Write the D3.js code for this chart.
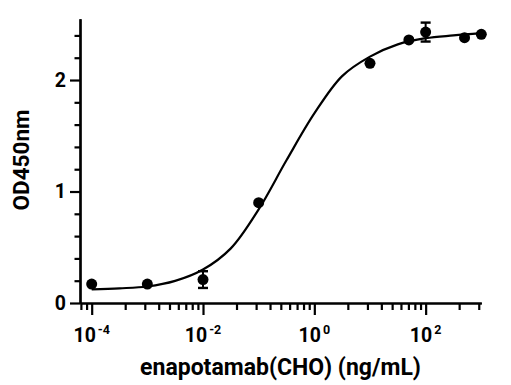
<!DOCTYPE html>
<html>
<head>
<meta charset="utf-8">
<script src="https://cdn.jsdelivr.net/npm/d3@7"></script>
<style>
  html, body { margin: 0; padding: 0; background: #fff; }
  svg { display: block; }
  text { font-family: Roboto, "Liberation Sans", Arial, sans-serif; font-weight: bold; fill: #000; }
</style>
</head>
<body>
<script>
// ---- data ----
const conc = [1e-4, 1e-3, 1e-2, 0.1, 10, 50, 100, 500, 1000];           // ng/mL
const od   = [0.17, 0.17, 0.21, 0.90, 2.15, 2.36, 2.43, 2.38, 2.41];    // OD450 mean
const err  = [0,    0,    0.075, 0,   0,    0,    0.085, 0,   0];        // error (SD)

// fitted curve at half-decade steps
const curveConc = [1e-4, 3.16e-4, 1e-3, 3.16e-3, 1e-2, 3.16e-2, 0.1, 0.316, 1, 3.16, 10, 31.6, 100, 316, 1000];
const curveOD   = [0.123, 0.132, 0.148, 0.198, 0.300, 0.490, 0.840, 1.280, 1.700, 2.035, 2.210, 2.320, 2.375, 2.400, 2.420];

const xMajorTicks = [1e-4, 1e-2, 1, 100];
const xMajorLabels = [["10", "-4"], ["10", "-2"], ["10", "0"], ["10", "2"]];
const xMinorTicks = [6.4e-5, 8.1e-5,
  4e-4, 9e-4, 1.6e-3, 2.5e-3, 3.6e-3, 4.9e-3, 6.4e-3, 8.1e-3,
  0.04, 0.09, 0.16, 0.25, 0.36, 0.49, 0.64, 0.81,
  4, 9, 16, 25, 36, 49, 64, 81,
  400, 900];
const yMajorTicks = [0, 1, 2];
const yMinorTicks = [0.2, 0.4, 0.6, 0.8, 1.2, 1.4, 1.6, 1.8, 2.2, 2.4];
const xTitle = "enapotamab(CHO) (ng/mL)";
const yTitle = "OD450nm";

// ---- drawing ----
const W = 511, H = 385;
const svg = d3.select("body").append("svg").attr("width", W).attr("height", H);

const x = d3.scaleLog().domain([Math.pow(10, -4.21), 1000]).range([80, 481.3]);
const y = d3.scaleLinear().domain([0, 2.55]).range([303, 18.7]);

const axisW = 2.2;

// x axis: majors (labels drawn separately for superscripts)
const gx = svg.append("g").attr("transform", `translate(0,${y(0)})`);
gx.call(d3.axisBottom(x).tickValues(xMajorTicks).tickSize(12).tickSizeOuter(0).tickFormat(""));
gx.append("g").call(d3.axisBottom(x).tickValues(xMinorTicks).tickSize(7).tickSizeOuter(0).tickFormat(""));
gx.selectAll(".domain").attr("stroke", "#000").attr("stroke-width", axisW);
gx.selectAll(".tick line").attr("stroke", "#000").attr("stroke-width", axisW);

// x tick labels with superscripts
xMajorTicks.forEach((v, i) => {
  const t = svg.append("text")
    .attr("x", x(v)).attr("y", 341.5)
    .attr("text-anchor", "middle")
    .style("font-size", "19.5px");
  t.append("tspan").text(xMajorLabels[i][0]);
  t.append("tspan").text(xMajorLabels[i][1]).attr("dy", -8).attr("dx", 2).style("font-size", "12.5px");
});

// y axis
const gy = svg.append("g").attr("transform", `translate(${x.range()[0]},0)`);
gy.call(d3.axisLeft(y).tickValues(yMajorTicks).tickSize(10).tickSizeOuter(0).tickPadding(4).tickFormat(d3.format("d")));
gy.append("g").call(d3.axisLeft(y).tickValues(yMinorTicks).tickSize(5.5).tickSizeOuter(0).tickFormat(""));
gy.selectAll(".domain").attr("stroke", "#000").attr("stroke-width", axisW);
gy.selectAll(".tick line").attr("stroke", "#000").attr("stroke-width", axisW);
gy.selectAll(".tick text").style("font-size", "19.5px").style("font-family", "Roboto, 'Liberation Sans', Arial, sans-serif").style("font-weight", "bold").attr("fill", "#000");

// fitted curve
const line = d3.line().x((d, i) => x(curveConc[i])).y((d, i) => y(curveOD[i])).curve(d3.curveCatmullRom.alpha(0.5));
svg.append("path").datum(curveOD).attr("d", line)
  .attr("fill", "none").attr("stroke", "#000").attr("stroke-width", 2.2);

// error bars
const eb = svg.append("g");
conc.forEach((c, i) => {
  if (err[i] > 0) {
    const cx = x(c);
    eb.append("line").attr("x1", cx).attr("x2", cx).attr("y1", y(od[i] - err[i])).attr("y2", y(od[i] + err[i]))
      .attr("stroke", "#000").attr("stroke-width", 2);
    [od[i] - err[i], od[i] + err[i]].forEach(v => {
      eb.append("line").attr("x1", cx - 5).attr("x2", cx + 5).attr("y1", y(v)).attr("y2", y(v))
        .attr("stroke", "#000").attr("stroke-width", 2.4);
    });
  }
});

// points
svg.append("g").selectAll("circle").data(od).join("circle")
  .attr("cx", (d, i) => x(conc[i])).attr("cy", d => y(d)).attr("r", 5.5).attr("fill", "#000");

// axis titles
svg.append("text").attr("x", 280.5).attr("y", 375).attr("text-anchor", "middle")
  .style("font-size", "23px").text(xTitle);
svg.append("text").attr("transform", "translate(28.5,160) rotate(-90)").attr("text-anchor", "middle")
  .style("font-size", "22.5px").text(yTitle);
</script>
</body>
</html>
